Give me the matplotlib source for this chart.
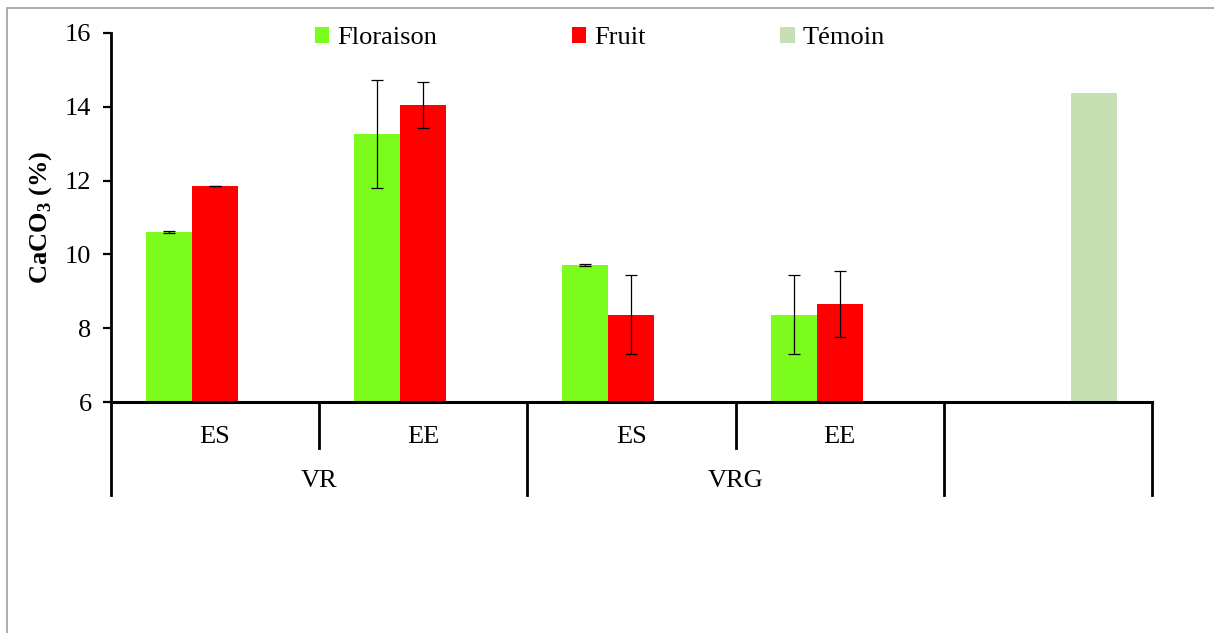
import numpy as np
import matplotlib
matplotlib.use('Agg')
import matplotlib.pyplot as plt
from matplotlib.patches import Patch, Rectangle

plt.rcParams['font.family'] = ['Liberation Serif', 'DejaVu Serif']
plt.rcParams['mathtext.fontset'] = 'custom'
plt.rcParams['mathtext.rm'] = 'Liberation Serif'
plt.rcParams['mathtext.bf'] = 'Liberation Serif:bold'

# data
sub_labels = ['ES', 'EE', 'ES', 'EE', '']
group_labels = ['VR', 'VRG']
series_names = ['Floraison', 'Fruit', 'Témoin']
floraison = [10.61, 13.26, 9.71, 8.36, np.nan]
floraison_err = [0.02, 1.47, 0.03, 1.07, 0]
fruit = [11.85, 14.05, 8.36, 8.66, np.nan]
fruit_err = [0.01, 0.62, 1.07, 0.90, 0]
temoin = [np.nan, np.nan, np.nan, np.nan, 14.37]

colors = ['#7CFC1C', '#FF0000', '#C6E0B4']

fig = plt.figure(figsize=(12.14, 6.33), dpi=100)
ax = fig.add_axes([0.0914, 0.3649, 0.8575, 0.583])

x = np.arange(len(sub_labels))
w = 0.221
ek = dict(ecolor='black', elinewidth=0.9, capsize=4.5, capthick=0.9)
ax.bar(x - w, floraison, w, yerr=floraison_err, color=colors[0], error_kw=ek)
ax.bar(x, fruit, w, yerr=fruit_err, color=colors[1], error_kw=ek)
ax.bar(x + w, temoin, w, color=colors[2])

ax.set_xlim(-0.5, 4.5)
ax.set_ylim(6, 16)
ax.set_yticks([6, 8, 10, 12, 14, 16])
ax.tick_params(axis='y', direction='out', length=6, width=1.6, labelsize=19, pad=8)
ax.set_xticks([])
for s in ['top', 'right']:
    ax.spines[s].set_visible(False)
ax.spines['left'].set_linewidth(2)
ax.spines['bottom'].set_linewidth(2.2)

ax.set_ylabel(r'CaCO$_\mathbf{3}$ (%)', fontsize=19, fontweight='bold')
ax.yaxis.set_label_coords(-0.0545, 0.5)

# multi-level category axis
tr = ax.get_xaxis_transform()
for xb in [0.5, 2.5]:
    ax.plot([xb, xb], [0, -0.125], transform=tr, color='black', lw=2, clip_on=False)
for xb in [-0.5, 1.5, 3.5, 4.5]:
    ax.plot([xb, xb], [0, -0.252], transform=tr, color='black', lw=2, clip_on=False)
for i, lab in enumerate(sub_labels):
    ax.text(i, -0.095, lab, transform=tr, ha='center', va='center', fontsize=19)
for i, lab in enumerate(group_labels):
    ax.text(2 * i + 0.5, -0.215, lab, transform=tr, ha='center', va='center', fontsize=19)

handles = [Patch(facecolor=c) for c in colors]
fig.legend(handles, series_names, loc='center', bbox_to_anchor=(0.494, 0.94), ncol=3,
           frameon=False, fontsize=19, handlelength=0.55, handleheight=0.55,
           handletextpad=0.3, columnspacing=5.1)

# outer chart border
fig.patches.append(Rectangle((7 / 1214, -0.1), 1.2, 1 - 8 / 633 + 0.1,
                             transform=fig.transFigure, fill=False,
                             edgecolor='#a0a0a0', lw=1.2))

fig.savefig('out.png', dpi=100)
